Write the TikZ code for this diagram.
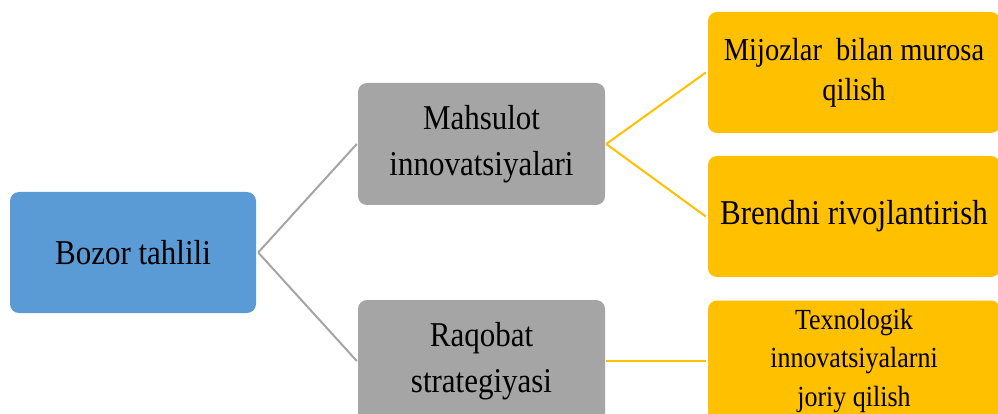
\documentclass[tikz,border=0pt]{standalone}
\usepackage{fontspec}
\setmainfont[FakeStretch=0.89]{Liberation Serif}
\definecolor{cblue}{HTML}{5B9BD5}
\definecolor{cgray}{HTML}{A5A5A5}
\definecolor{corange}{HTML}{FFC000}
\begin{document}
\begin{tikzpicture}[x=1pt,y=-1pt,
  boxbase/.style={rounded corners=9pt, inner sep=0pt, align=center, text=black},
  bluebox/.style={boxbase, fill=cblue, minimum width=246pt, minimum height=121pt, font=\fontsize{34.8}{46}\selectfont},
  graybox/.style={boxbase, fill=cgray, minimum width=247pt, minimum height=122pt, font=\fontsize{34.8}{46}\selectfont},
  orangebox/.style={boxbase, fill=corange, minimum width=292pt, minimum height=121pt},
  grayline/.style={draw=cgray, line width=2pt},
  orangeline/.style={draw=corange, line width=2pt}]
\useasboundingbox (0,0) rectangle (998,414);
\clip (0,0) rectangle (998,414);
\fill[white] (0,0) rectangle (998,414);
\node[bluebox] (bt) at (133,252.5) {Bozor tahlili};
\node[graybox] (mi) at (481.5,144) {Mahsulot\\innovatsiyalari};
\node[graybox] (rs) at (481.5,361) {Raqobat\\strategiyasi};
\node[orangebox, font=\fontsize{32}{40}\selectfont] (mb) at (854,72.5) {Mijozlar~ bilan murosa\\qilish};
\node[orangebox, font=\fontsize{34.8}{46}\selectfont] (br) at (854,216.5) {Brendni rivojlantirish};
\node[orangebox, font=\fontsize{29.2}{38.5}\selectfont] (tj) at (854,361) {Texnologik\\innovatsiyalarni\\joriy qilish};
\draw[grayline] ([xshift=2pt]bt.east) -- ([xshift=-1pt]mi.west);
\draw[grayline] ([xshift=2pt]bt.east) -- ([xshift=-1pt]rs.west);
\draw[orangeline] ([xshift=1pt]mi.east) -- ([xshift=-2pt]mb.west);
\draw[orangeline] ([xshift=1pt]mi.east) -- ([xshift=-2pt]br.west);
\draw[orangeline] ([xshift=1pt]rs.east) -- ([xshift=-2pt]tj.west);
\end{tikzpicture}
\end{document}
